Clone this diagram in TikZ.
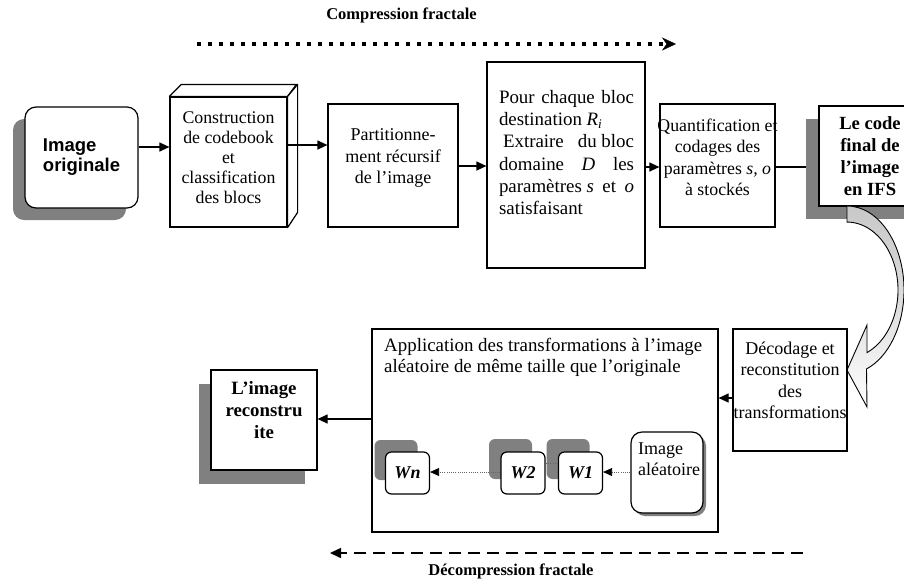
\documentclass[tikz,border=0pt]{standalone}
\usepackage{fontspec}
\setmainfont{Liberation Serif}
\newfontfamily\arialfont{Liberation Sans}
\usetikzlibrary{arrows.meta}

\definecolor{shade}{RGB}{128,128,128}
\definecolor{bendfill}{RGB}{200,200,200}

\begin{document}
\begin{tikzpicture}[x=1pt,y=-1pt,
  box/.style={draw=black, line width=1.2pt, fill=white, inner sep=0pt},
  rbox/.style={box, rounded corners=11pt},
  wbox/.style={box, rounded corners=6pt, minimum width=44pt, minimum height=42pt,
               font=\fontsize{18}{20}\selectfont\bfseries\itshape},
  shadowbox/.style={fill=shade, draw=none, inner sep=0pt},
  wshadow/.style={shadowbox, rounded corners=6pt, minimum width=43pt, minimum height=40pt},
  txt/.style={inner sep=0pt, align=center, font=\fontsize{18}{21.5}\selectfont},
  btxt/.style={inner sep=0pt, align=center, font=\fontsize{18.6}{22}\selectfont\bfseries},
  ttl/.style={inner sep=0pt, font=\fontsize{16.5}{20}\selectfont\bfseries},
  arr/.style={line width=1.2pt, -{Triangle[length=10pt,width=9pt]}},
  dotarr/.style={line width=0.8pt, dash pattern=on 1pt off 1.2pt, draw=black!60,
                 -{Triangle[length=9pt,width=8pt,color=black]}},
]
\useasboundingbox (0,0) rectangle (904,579);

% ---------- compression direction ----------
\node[ttl] (comp) at (401.5,15) {Compression fractale};
\coordinate (comp-a) at (197,44);
\coordinate (comp-b) at (676,44);
\draw[line width=3.6pt, dash pattern=on 4pt off 7pt,
      -{Stealth[length=14pt,width=13pt,line width=0.4pt]}] (comp-a) -- (comp-b);

% ---------- upper chain ----------
\node[shadowbox, rounded corners=11pt, minimum width=113pt, minimum height=101pt]
  (orig-sh) at (69.5,169.5) {};
\node[rbox, minimum width=113pt, minimum height=101pt] (orig) at (81.5,157.5)
  {\arialfont\bfseries\fontsize{18.5}{20}\selectfont
   \begin{tabular}{@{}l@{}}Image\\originale\end{tabular}};

% cuboid block
\node[box, minimum width=117pt, minimum height=130pt] (constr) at (228.5,162) {};
\draw[line width=1.2pt, fill=white, line join=round]
  (constr.north west) -- ++(12,-12) -- ++(115,0) -- (constr.north east) -- cycle;
\draw[line width=1.2pt, fill=white, line join=round]
  (constr.north east) -- ++(10,-12) -- ++(0,128) -- (constr.south east) -- cycle;
\node[txt, font=\fontsize{17.8}{20}\selectfont] (constr-t) at (228.5,158)
  {Construction\\de codebook\\et\\classification\\des blocs};

\node[box, minimum width=130pt, minimum height=123pt] (part) at (393,165.5) {};
\node[txt] (part-t) at (393,158) {Partitionne-\\ment récursif\\de l’image};

\node[box, minimum width=158pt, minimum height=206pt] (pour) at (566,165) {};
\node[txt, align=left, font=\fontsize{18.9}{22.3}\selectfont] (pour-t) at (566.5,152.5)
  {\hbox to 135pt{Pour\hfill chaque\hfill bloc}\\
   destination \textit{R}\textsubscript{\textit{i}}\\
   \hbox to 135pt{\hspace*{4pt}Extraire\hfill du bloc}\\
   \hbox to 135pt{domaine\hfill \textit{D}\hfill les}\\
   \hbox to 135pt{paramètres \textit{s}\hfill et\hfill \textit{o}}\\
   satisfaisant};

\node[box, minimum width=115pt, minimum height=123pt] (quant) at (717.5,165.5) {};
\node[txt, font=\fontsize{17.8}{21.5}\selectfont] (quant-t) at (717.5,157.5)
  {Quantification et\\codages des\\paramètres \textit{s, o}\\à stockés};

\node[shadowbox, minimum width=102pt, minimum height=100pt] (code-sh) at (857,169) {};
\node[box, minimum width=102pt, minimum height=100pt] (code) at (870,156) {};
\node[btxt] (code-t) at (870,156.5) {Le code\\final de\\l’image\\en IFS};

\draw[arr] (orig.east |- 0,147) -- (constr.west |- 0,147);
\draw[arr] (constr.east |- 0,145) -- (part.west |- 0,145);
\draw[arr] (part.east |- 0,166) -- (pour.west |- 0,166);
\draw[arr] (pour.east |- 0,167) -- (quant.west |- 0,167);
\draw[line width=1.2pt] (quant.east |- 0,167) -- (code-sh.west |- 0,167);

% curved block arrow down to the decoding step
\draw[line width=0.9pt, top color=bendfill, bottom color=white, middle color=white!40!bendfill,
      line join=miter]
  (847,206) arc[start angle=-90, end angle=70, x radius=57, y radius=84]
  -- (867,407) -- (847,370) -- (867,325) -- (867,352.6)
  arc[start angle=66.9, end angle=-90, x radius=51, y radius=68] -- cycle;

% ---------- lower chain ----------
\node[box, minimum width=114pt, minimum height=122pt] (dec) at (790,390) {};
\node[txt] (dec-t) at (790,380.5) {Décodage et\\reconstitution\\des\\transformations};

\node[box, minimum width=346pt, minimum height=203pt] (app) at (545,430.5) {};
\node[txt, align=left, anchor=west, font=\fontsize{18.9}{21}\selectfont] (app-t) at (384,357.5)
  {Application des transformations à l’image\\aléatoire de même taille que l’originale};

\node[shadowbox, minimum width=106pt, minimum height=100pt] (recon-sh) at (252,434) {};
\node[box, minimum width=106pt, minimum height=100pt] (recon) at (264,420) {};
\node[btxt, font=\fontsize{18.8}{22}\selectfont\bfseries] (recon-t) at (264,410)
  {L’image\\reconstru\\ite};

\draw[arr] (dec.west |- 0,398) -- (app.east |- 0,398);
\draw[arr] (app.west |- 0,419) -- (recon.east |- 0,419);

% random start image and the transformations
\node[shadowbox, rounded corners=11pt, minimum width=72pt, minimum height=81pt]
  (alea-sh) at (670,475.5) {};
\node[rbox, minimum width=72pt, minimum height=81pt] (alea) at (667,472.5) {};
\node[txt, align=left, anchor=west] (alea-t) at (638,459) {Image\\aléatoire};

\node[wshadow] (w2-sh) at (510.5,459) {};
\node[wshadow] (w1-sh) at (568,459) {};
\node[wshadow] (wn-sh) at (396,460) {};

\node[wbox] (w1) at (580.5,473) {W1};
\node[wbox] (w2) at (523,473) {W2};
\node[wbox] (wn) at (407.5,473) {Wn};

\draw[line width=0.8pt, dash pattern=on 1pt off 1.2pt, draw=black!60]
  (w1.west |- 0,463) -- (w2.east |- 0,463);
\draw[dotarr] (alea.west |- 0,472) -- (w1.east |- 0,472);
\draw[dotarr] (w2.west |- 0,472) -- (wn.east |- 0,472);

% ---------- decompression direction ----------
\coordinate (dec-a) at (803,553);
\coordinate (dec-b) at (330,553);
\draw[line width=1.5pt, dash pattern=on 12pt off 7pt,
      -{Triangle[length=11pt,width=10pt]}] (dec-a) -- (dec-b);
\node[ttl] (decomp) at (511,571) {Décompression fractale};
\end{tikzpicture}
\end{document}
